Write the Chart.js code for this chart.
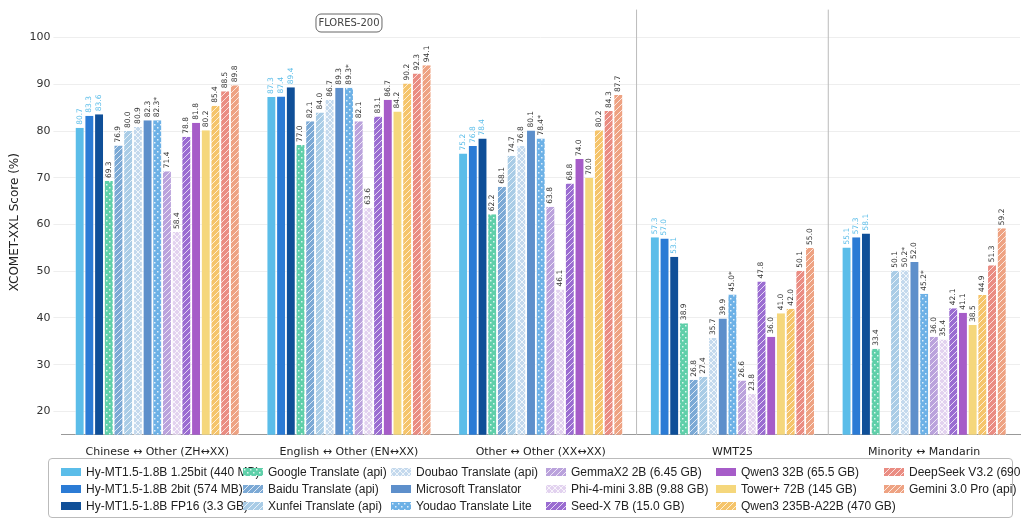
<!DOCTYPE html>
<html><head><meta charset="utf-8">
<script src="https://cdn.jsdelivr.net/npm/chart.js@4.4.0/dist/chart.umd.min.js"></script>
<style>
body{margin:0;background:#fff;font-family:"DejaVu Sans",sans-serif}
#wrap{position:relative;width:1024px;height:462px}
#legend{position:absolute;left:48px;top:458px;width:965px;height:60px;border:1px solid #bbb;border-radius:4px;box-sizing:border-box;padding:4px 12px;display:grid;grid-template-columns:182px 148px 155px 170px 168px 130px;grid-template-rows:repeat(3,17px);grid-auto-flow:column;font-family:"Liberation Sans Narrow","Liberation Sans",sans-serif;font-size:12px;color:#222}
#legend div{display:flex;align-items:center;white-space:nowrap}
#legend canvas{margin-right:5px}
</style></head><body>
<div id="wrap"><canvas id="c" width="1024" height="462"></canvas></div>
<div id="legend"></div>
<script>
const groups = ["Chinese \u2194 Other (ZH\u2194XX)", "English \u2194 Other (EN\u2194XX)", "Other \u2194 Other (XX\u2194XX)", "WMT25", "Minority \u2194 Mandarin"];
const models = ["Hy-MT1.5-1.8B 1.25bit (440 MB)", "Hy-MT1.5-1.8B 2bit (574 MB)", "Hy-MT1.5-1.8B FP16 (3.3 GB)",
  "Google Translate (api)", "Baidu Translate (api)", "Xunfei Translate (api)", "Doubao Translate (api)",
  "Microsoft Translator", "Youdao Translate Lite", "GemmaX2 2B (6.45 GB)", "Phi-4-mini 3.8B (9.88 GB)",
  "Seed-X 7B (15.0 GB)", "Qwen3 32B (65.5 GB)", "Tower+ 72B (145 GB)", "Qwen3 235B-A22B (470 GB)",
  "DeepSeek V3.2 (690 GB)", "Gemini 3.0 Pro (api)"];
// scores per model, one value per group
const scores = [
  [80.7, 87.3, 75.2, 57.3, 55.1],
  [83.3, 87.4, 76.8, 57.0, 57.3],
  [83.6, 89.4, 78.4, 53.1, 58.1],
  [69.3, 77.0, 62.2, 38.9, 33.4],
  [76.9, 82.1, 68.1, 26.8, null],
  [80.0, 84.0, 74.7, 27.4, 50.1],
  [80.9, 86.7, 76.8, 35.7, 50.2],
  [82.3, 89.3, 80.1, 39.9, 52.0],
  [82.3, 89.3, 78.4, 45.0, 45.2],
  [71.4, 82.1, 63.8, 26.6, 36.0],
  [58.4, 63.6, 46.1, 23.8, 35.4],
  [78.8, 83.1, 68.8, 47.8, 42.1],
  [81.8, 86.7, 74.0, 36.0, 41.1],
  [80.2, 84.2, 70.0, 41.0, 38.5],
  [85.4, 90.2, 80.2, 42.0, 44.9],
  [88.5, 92.3, 84.3, 50.1, 51.3],
  [89.8, 94.1, 87.7, 55.0, 59.2]
];
// [model, group] pairs whose label carries an asterisk
const starred = [[8,0],[8,1],[8,2],[8,3],[6,4],[8,4]];
const colors = ["#5bbde9","#2b7bd5","#0f4f98","#5fcfa9","#7ba9d5","#a9cce6","#c4d9ed","#5d8fcb","#6db1e6","#baa2dc","#e2d2ef","#9a6cd1","#a65cc8","#f5d77c","#f5c46a","#ea8c82","#eea282"];
const kinds = ["solid","solid","solid","dots","diag","diag","cross","solid","dots","diag","cross","diag","solid","solid","diag","diag","diag"];

function pattern(color, kind, ctx) {
  if (kind === "solid") return color;
  const c = document.createElement("canvas"); c.width = 6; c.height = 6;
  const g = c.getContext("2d");
  g.fillStyle = color; g.fillRect(0, 0, 6, 6);
  g.strokeStyle = "rgba(255,255,255,0.75)"; g.lineWidth = 1;
  if (kind === "dots") { g.fillStyle = "rgba(255,255,255,0.8)"; g.fillRect(1,1,1.5,1.5); g.fillRect(4,4,1.5,1.5); }
  if (kind === "diag" || kind === "cross") { g.beginPath(); g.moveTo(0,6); g.lineTo(6,0); g.moveTo(-1,1); g.lineTo(1,-1); g.moveTo(5,7); g.lineTo(7,5); g.stroke(); }
  if (kind === "cross") { g.beginPath(); g.moveTo(0,0); g.lineTo(6,6); g.stroke(); }
  return ctx.createPattern(c, "repeat");
}

const ctx = document.getElementById("c").getContext("2d");
const datasets = models.map((m, i) => ({
  label: m, data: scores[i], backgroundColor: pattern(colors[i], kinds[i], ctx),
  borderColor: "#fff", borderWidth: {left: 0.5, right: 0.5, top: 0, bottom: 0},
  categoryPercentage: 0.86, barPercentage: 0.92
}));

const labelPlugin = {
  id: "labels",
  afterDatasetsDraw(chart) {
    const c = chart.ctx;
    c.save();
    c.font = "7.5px 'DejaVu Sans'";
    chart.data.datasets.forEach((ds, i) => {
      chart.getDatasetMeta(i).data.forEach((bar, j) => {
        const v = ds.data[j];
        if (v == null) return;
        const star = starred.some(s => s[0] === i && s[1] === j) ? "*" : "";
        c.save();
        c.translate(bar.x, bar.y - 3);
        c.rotate(-Math.PI / 2);
        c.fillStyle = i < 3 ? colors[0] : "#333";
        c.textAlign = "left"; c.textBaseline = "middle";
        c.fillText(v.toFixed(1) + star, 0, 0);
        c.restore();
      });
    });
    // group separators
    const x = chart.scales.x, a = chart.chartArea;
    c.strokeStyle = "#bbb"; c.lineWidth = 1;
    [3, 4].forEach(k => {
      const px = (x.getPixelForTick(k - 1) + x.getPixelForTick(k)) / 2;
      c.beginPath(); c.moveTo(px, a.top); c.lineTo(px, a.bottom); c.stroke();
    });
    // FLORES-200 tag
    const fx = x.getPixelForTick(1);
    c.fillStyle = "#fff"; c.strokeStyle = "#666";
    c.beginPath(); c.roundRect(fx - 33, 14, 66, 18, 5); c.fill(); c.stroke();
    c.fillStyle = "#444"; c.font = "10px 'DejaVu Sans'"; c.textAlign = "center"; c.textBaseline = "middle";
    c.fillText("FLORES-200", fx, 23);
    c.restore();
  }
};

new Chart(ctx, {
  type: "bar",
  data: { labels: groups, datasets },
  options: {
    responsive: false, animation: false,
    layout: { padding: { left: 4, right: 4, top: 4 } },
    plugins: { legend: { display: false }, tooltip: { enabled: false } },
    scales: {
      x: { grid: { display: false }, border: { color: "#999" },
           ticks: { color: "#222", font: { size: 11, family: "DejaVu Sans" } } },
      y: { min: 15, max: 106, border: { display: false },
           grid: { color: "#eee" },
           afterBuildTicks: s => { s.ticks = [20,30,40,50,60,70,80,90,100].map(v => ({ value: v })); },
           ticks: { color: "#333", font: { size: 11, family: "DejaVu Sans" } },
           title: { display: true, text: "XCOMET-XXL Score (%)", color: "#222", font: { size: 12, family: "DejaVu Sans" } } }
    }
  },
  plugins: [labelPlugin]
});

const leg = document.getElementById("legend");
models.forEach((m, i) => {
  const d = document.createElement("div");
  const sw = document.createElement("canvas"); sw.width = 20; sw.height = 8;
  const g = sw.getContext("2d"); g.fillStyle = pattern(colors[i], kinds[i], g); g.fillRect(0, 0, 20, 8);
  d.appendChild(sw); d.appendChild(document.createTextNode(m));
  leg.appendChild(d);
});
</script>
</body></html>
